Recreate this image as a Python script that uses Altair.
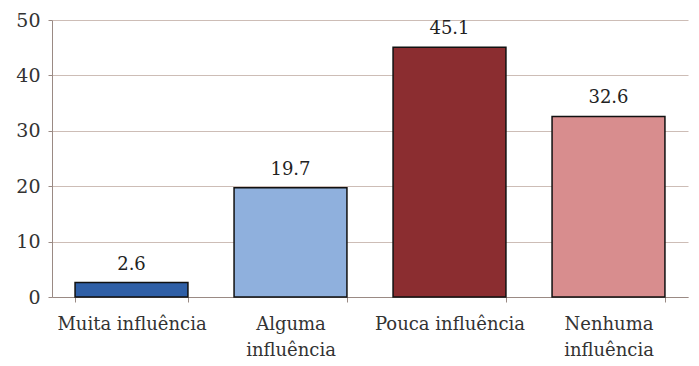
import altair as alt
import pandas as pd

categories = ["Muita influência", "Alguma influência", "Pouca influência", "Nenhuma influência"]
values = [2.6, 19.7, 45.1, 32.6]
colors = ["#2f5fa6", "#8fb0dd", "#8b2d30", "#d88d8e"]

df = pd.DataFrame({"cat": categories, "val": values, "col": colors})

FONT = "DejaVu Serif"

label_expr = ("datum.value == 'Alguma influência' ? ['Alguma', 'influência'] : "
              "datum.value == 'Nenhuma influência' ? ['Nenhuma', 'influência'] : datum.value")

x = alt.X("cat:N", sort=categories, title=None,
          scale=alt.Scale(paddingInner=0.29, paddingOuter=0.145),
          axis=alt.Axis(labelAngle=0, labelExpr=label_expr, tickBand="extent",
                        labelFont=FONT, labelFontSize=18, labelColor="#333333",
                        labelPadding=13, labelLineHeight=26,
                        domainColor="#9a8a84", tickColor="#9a8a84", tickSize=5, grid=False))
y = alt.Y("val:Q", title=None,
          scale=alt.Scale(domain=[0, 50], nice=False),
          axis=alt.Axis(values=[0, 10, 20, 30, 40, 50], labelFont=FONT,
                        labelFontSize=19, labelColor="#333333", labelPadding=8,
                        domainColor="#9a8a84", tickColor="#9a8a84", tickSize=4,
                        gridColor="#cdbdb6", gridWidth=1))

bars = alt.Chart(df).mark_bar(stroke="#111111", strokeWidth=1.5).encode(
    x=x, y=y, color=alt.Color("col:N", scale=None))
text = alt.Chart(df).mark_text(dy=-18, font=FONT, fontSize=18, color="#222222").encode(
    x=alt.X("cat:N", sort=categories), y="val:Q", text=alt.Text("val:Q", format=".1f"))

chart = (bars + text).properties(
    width=636, height=277,
    autosize=alt.AutoSizeParams(type="none"),
    padding={"left": 52, "top": 20, "right": 11, "bottom": 69},
    background="white",
).configure_view(stroke=None)

chart.save("out.html", embed_options={"renderer": "svg", "actions": False})
